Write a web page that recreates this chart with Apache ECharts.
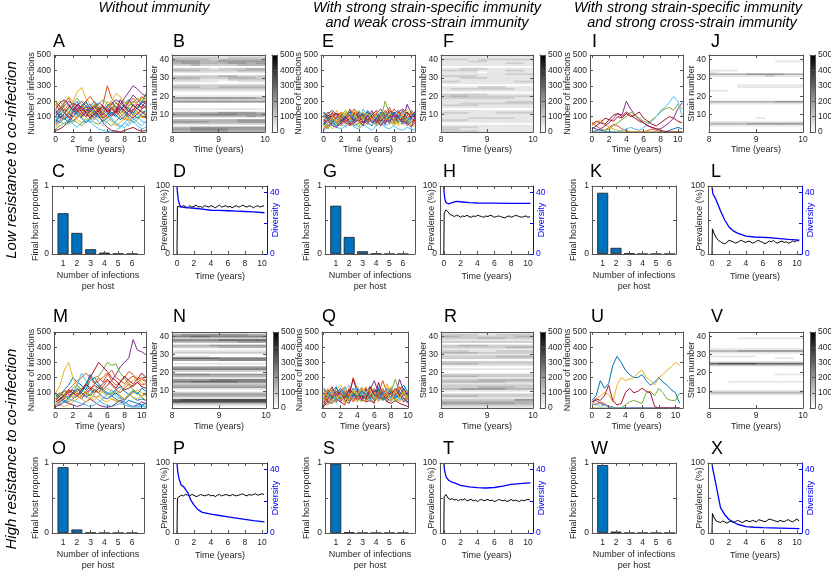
<!DOCTYPE html>
<html><head><meta charset="utf-8">
<script src="https://cdn.jsdelivr.net/npm/echarts@6/dist/echarts.min.js"></script>
<style>html,body{margin:0;padding:0;background:#fff}#c{width:831px;height:571px}</style>
</head><body><div id="c"></div>
<script>
// ---------------- DATA ----------------
// spaghetti traces: number of infections per strain, sampled every 0.5 year from t=0
const A_traces = [
"60 110 150 120 170 200 140 160 180 130 110 150 170 200 160 140 180 210 170 150 190 250",
"190 170 140 180 150 120 160 130 170 200 150 180 300 220 190 160 140 170 200 180 150 170",
"100 140 180 230 200 260 290 220 180 150 170 140 160 200 250 230 180 200 160 190 220 200",
"80 60 90 120 100 140 110 150 120 90 130 160 140 110 150 180 220 260 300 280 250 230",
"150 120 100 130 160 110 90 120 150 180 140 100 120 150 170 140 120 160 130 110 140 120",
"40 70 100 80 60 90 120 100 70 40 20 10 5 0 10 30 60 40 80 100 70 60",
"10 20 40 70 120 150 100 130 160 140 110 60 30 10 5 0 10 20 30 15 5 10",
"130 100 80 110 140 120 90 60 80 110 90 130 160 120 100 140 170 150 120 160 200 180",
"50 80 120 100 70 100 130 170 140 110 160 120 90 110 140 100 80 120 150 130 100 90",
"170 200 160 130 110 90 120 140 110 80 100 130 200 170 140 120 100 80 110 140 170 150",
"110 130 170 200 180 150 170 130 100 120 150 110 140 180 210 190 160 200 240 210 180 160",
"20 40 60 50 80 60 40 70 90 60 50 80 60 40 70 100 120 90 60 80 110 90",
"90 150 200 170 130 100 150 190 160 200 170 140 120 80 50 30 60 90 70 40 20 30",
"140 90 120 160 190 170 130 100 140 170 130 90 110 150 120 160 130 100 140 180 160 200",
"70 120 90 60 100 130 170 200 150 120 100 70 90 130 110 80 100 140 110 90 120 140",
"180 140 190 220 170 130 160 200 230 190 150 120 160 190 150 120 150 190 220 190 230 210",
"30 60 90 130 110 80 60 90 120 150 120 80 100 70 40 60 90 70 100 130 90 110",
"120 160 130 90 130 170 200 170 130 160 190 170 130 100 130 170 140 110 90 120 150 170",
"200 160 120 150 190 220 180 140 110 140 180 210 180 150 190 170 200 170 190 220 200 240",
"90 70 50 80 50 30 60 80 60 90 70 40 70 90 60 40 30 60 90 60 40 70",
"150 190 210 180 140 180 160 120 90 120 140 170 130 160 130 210 170 130 180 150 130 110"
];
const E_traces = [
"40 90 120 80 60 110 140 90 70 100 130 80 60 110 90 70 120 140 100 80 110 90",
"100 130 80 60 120 90 150 110 80 60 100 130 90 70 120 160 100 80 60 110 130 100",
"20 60 100 140 90 50 80 120 70 40 90 130 80 50 100 70 40 80 120 90 60 80",
"70 40 60 100 130 80 110 70 130 100 60 90 120 150 100 70 110 90 60 180 120 100",
"130 110 70 40 80 120 60 100 140 90 120 70 40 80 200 120 90 60 100 70 40 60",
"10 30 50 30 20 40 60 30 20 50 30 10 40 60 30 20 40 20 10 30 20 10",
"80 60 110 120 70 100 50 130 90 120 80 110 140 90 60 100 130 100 140 90 120 80",
"50 100 70 90 110 60 90 40 60 80 140 100 70 120 80 130 60 110 80 50 90 130",
"120 80 130 60 40 90 120 150 110 70 50 100 80 40 70 90 150 120 90 110 80 60",
"30 50 20 60 90 130 80 60 100 130 90 60 100 130 110 50 70 40 60 80 50 30",
"90 120 140 110 80 60 40 80 120 60 110 140 60 90 50 110 80 130 150 120 100 140",
"60 20 90 50 110 140 100 60 30 90 70 120 100 60 130 80 50 90 110 60 140 110",
"110 70 40 90 60 30 70 110 80 150 100 60 110 90 40 60 100 70 130 100 60 90",
"70 110 90 120 100 70 90 120 100 60 80 100 120 70 100 140 110 60 90 130 90 70",
"130 90 60 40 70 100 130 70 100 120 60 40 90 130 110 90 130 100 50 70 100 120",
"20 40 70 100 50 80 40 60 90 110 70 90 50 100 140 100 70 130 90 40 70 50",
"100 60 100 70 130 110 80 140 50 90 120 80 130 110 70 120 90 50 120 140 110 80",
"50 80 40 30 60 90 110 60 80 40 110 60 90 40 80 60 120 90 70 60 30 120"
];
const I_traces = [
"30 20 10 5 0 0 0 0 0 0 0 0 0 0 0 0 0 0 10 20 30 20",
"60 40 20 10 30 50 40 20 10 0 0 0 0 10 20 10 0 0 0 0 0 0",
"40 60 80 50 30 20 10 5 0 0 0 0 0 0 0 0 0 0 0 0 0 0",
"0 10 20 40 60 90 120 110 200 150 110 80 60 40 30 20 20 40 60 90 150 190",
"0 0 0 10 20 40 60 80 100 130 110 90 70 60 80 100 130 150 160 140 180 150",
"0 0 0 0 0 0 0 10 20 30 20 10 30 50 70 100 140 160 190 230 200 100",
"50 70 60 90 80 110 120 100 130 110 90 70 60 40 30 20 10 5 0 0 0 0",
"20 40 60 50 80 70 100 90 120 100 110 130 90 70 50 40 60 80 100 90 70 60"
];
const I_colorIdx = [0,1,2,3,4,5,6,6];
const M_traces = [
"50 80 120 150 200 170 150 120 180 200 160 120 100 80 60 40 30 50 40 30 20 30",
"80 100 60 120 150 180 200 230 200 160 180 200 230 180 150 170 200 240 220 190 200 180",
"100 150 250 300 200 150 100 80 60 90 120 100 80 60 50 40 60 80 100 120 100 80",
"20 40 60 80 100 80 60 100 120 150 130 120 150 180 220 270 300 330 450 380 370 350",
"60 90 120 100 130 150 120 140 180 200 210 250 300 280 290 230 200 150 120 100 80 90",
"30 50 80 60 100 150 230 180 120 80 50 30 20 10 20 30 20 10 5 10 20 10",
"40 60 80 100 120 90 110 150 200 250 300 270 240 200 180 150 120 130 150 170 140 130",
"100 70 50 40 60 80 100 150 220 170 140 110 90 100 120 140 110 90 70 50 60 50",
"60 40 80 110 90 120 100 80 120 160 200 170 220 250 200 180 160 190 210 180 150 160",
"30 20 10 20 40 60 80 100 90 70 80 110 130 110 90 120 150 170 180 200 170 150",
"10 20 40 30 20 10 20 40 60 40 20 10 5 10 30 50 40 20 10 20 40 30",
"70 100 80 60 90 110 130 100 80 110 150 120 100 90 110 80 60 90 120 100 70 50",
"20 30 40 60 50 40 30 20 10 20 40 60 90 120 80 60 40 20 10 5 10 5",
"40 60 90 120 100 80 120 160 130 100 130 160 190 160 130 170 210 180 160 190 230 200",
"90 60 40 70 100 130 100 70 90 120 100 70 60 80 100 70 50 80 110 90 130 110",
"60 80 110 90 70 100 80 110 140 120 100 140 180 150 120 100 130 160 140 170 190 170",
"20 50 70 40 60 90 60 40 70 50 80 50 40 60 40 80 60 90 70 60 80 100"
];
const Q_traces = [
"60 100 70 130 90 60 110 80 120 70 100 140 80 60 110 90 70 120 80 60 40",
"90 60 120 80 110 140 70 200 120 80 60 100 130 90 180 100 70 110 140 90 60",
"30 80 50 100 70 40 90 120 60 100 140 80 110 70 50 160 90 60 100 70 50",
"120 90 140 60 40 80 110 70 130 90 60 120 180 100 70 90 130 80 190 110 80",
"40 20 60 90 120 80 50 100 70 40 90 60 40 80 120 70 110 190 90 60 80",
"80 110 90 50 80 120 150 90 60 110 80 50 90 140 90 60 40 80 60 100 70",
"10 40 30 60 40 20 90 190 100 60 40 50 30 170 80 40 30 50 30 20 10",
"100 70 110 140 60 100 70 130 110 60 120 90 70 120 60 130 100 70 120 150 100",
"50 120 80 40 100 60 130 50 90 130 70 110 60 100 130 80 50 100 70 120 90",
"70 50 100 120 150 110 80 60 40 70 100 130 100 50 80 110 140 60 40 90 120",
"20 60 90 70 110 50 30 80 100 50 130 70 120 80 100 40 80 90 110 60 30",
"110 80 40 70 60 100 40 110 80 120 50 90 60 110 70 50 120 40 70 100 60",
"40 90 110 30 80 130 100 60 140 90 110 40 80 50 90 120 60 100 50 80 110",
"80 40 70 110 90 70 120 100 50 80 60 140 90 70 60 100 90 130 80 40 70",
"130 100 60 90 130 90 60 90 70 110 90 60 110 130 50 70 110 60 90 130 80",
"30 110 130 100 50 110 80 40 80 60 40 80 50 90 110 60 100 80 140 80 100",
"70 130 100 60 90 30 60 120 90 140 100 120 70 40 70 100 40 120 60 110 50"
];
const U_traces = [
"50 80 180 130 160 280 340 300 250 220 200 200 220 180 150 170 200 170 150 120 100 30",
"30 20 40 30 10 5 0 0 0 0 0 0 0 0 0 0 0 0 0 0 0 0",
"20 60 80 100 90 40 150 200 180 190 200 230 250 200 180 150 200 220 250 270 300 280",
"40 50 30 20 10 5 0 0 0 0 0 0 0 0 0 0 0 0 0 0 0 0",
"0 0 0 0 0 0 0 0 20 40 50 40 30 100 110 80 130 100 60 50 50 100",
"20 30 10 20 10 0 0 0 0 0 0 0 0 0 0 0 0 0 0 0 0 0",
"40 60 50 80 150 50 20 30 100 130 100 110 130 110 100 10 0 0 0 0 0 0"
];

// heatmaps: rows from strain 42 (top) down to strain 1; 10 time bins over years 8-10; digit x 50 = infections
const B_heat = ["1111111111","2222212222","3333233333","4443344444","3443334434","2232222333","0000000000","2222122233","3332222333","1111111111","0000000000","2222233222","3332223332","2221112222","1111100111","0000000000","2222222222","3332233333","2222222222","1111111111","0000000000","0000000000","1111111111","4444444443","2222222222","4444444444","0000000000","0000000000","0000000000","1111111111","0000000000","3333344443","4445555444","3333333343","0000000000","3333333444","4444333444","2222222222","0000000000","3344444444","4455554444","3344443333"];
const F_heat = ["1111111111","1111111111","2221222222","1112211111","1111111221","1111111111","0000000000","1122211111","2222111221","1111011111","1111111222","2222111111","1122211111","1111111111","2211111122","1111111111","0000000000","1111222111","1222222211","1111111111","0000000000","2222211111","2332222222","2222222211","1111111111","1111111222","1122222222","2222111111","1111111111","0000000000","1111111111","2221112222","1111111111","1111111111","1112222211","2221111111","1111111111","0000000000","1111111111","2222111111","2211111111","2222111111"];
const J_heat = ["0000000000","0000000000","0000000000","0000000111","0000000000","0000000000","0000000000","0000000000","1110000000","1000000000","3333444433","1111112111","0000000000","0000000000","0000000000","0000000000","0001111111","0001111111","0000000000","1100000000","0000000000","0000000000","0000000000","0000000000","0000000000","3333333444","1111111111","0000000000","0000000000","0000000000","0000000000","0000000000","0000000000","0000000000","0000010000","0000000000","1111111111","3333444444","1111111111","0000000000","0000000000","0000000000"];
const N_heat = ["1111111111","3444444433","5566555555","2222222222","5555566666","3333333444","0000000000","3333444444","2222233333","0000000000","1111111111","2222222222","0000000000","1111000000","6666655555","4444455555","0000000000","1111111111","0000000000","4444444444","5555555555","2222222222","0000000000","5555444444","3333333333","1111111111","4444555555","5566666555","2222222222","3333333333","4444444444","1111111111","0000000000","2222222222","4444444444","3333333333","1111111111","6777777777","7777777777","3333333333","1111111111","0000000000"];
const R_heat = ["1111111111","2222112222","3322222233","2222333222","1111111111","2222222222","0000000000","2233322222","2222222333","1111111111","2221112222","3333222222","1111111111","2222223333","2222222222","0000000000","2222222222","3333222222","1111111111","0000000000","1111111111","0000000000","0000000000","2222222222","3333222222","1111111111","2222333333","3333333222","1111111111","2222222222","2222333322","3344444333","1111111111","0000000000","2222222222","3333222222","1111111111","2222222244","3333333333","4444444433","2222222222","1111111111"];
const V_heat = ["0000000000","0000000000","0000000000","0001111111","0000000000","0000000000","0000000000","0000000000","0000000000","1111111111","3334444444","1111111111","0000000000","1111100000","0000000110","0000000000","1111111111","6777766666","2222222222","0000000000","0000000000","0000000000","0000000000","0000000111","0000000000","0000000000","0000000000","0011111111","0000000000","0000000000","0000000000","0000000000","1111111111","3333333333","1111111111","0000000000","0000000000","0000000000","0000000000","0000000000","0000000000","0000000000"];

// final host proportion for 1..6 infections per host
const C_bar = [0.60, 0.31, 0.07, 0.02, 0.005, 0.002];
const G_bar = [0.71, 0.25, 0.04, 0.005, 0, 0];
const K_bar = [0.90, 0.09, 0.01, 0, 0, 0];
const O_bar = [0.94, 0.05, 0.004, 0, 0, 0];
const S_bar = [0.99, 0.01, 0, 0, 0, 0];
const W_bar = [0.97, 0.02, 0, 0, 0, 0];

// prevalence (%) sampled at t = 0, 0.05, 0.25, 0.5, ... 10.25
const D_prev = [0,70,72,69,71,70,68,71,69,70,72,69,70,68,71,70,69,71,70,68,70,72,69,70,71,69,70,68,70,71,69,70,72,70,69,71,70,68,70,71,69,70,71];
const H_prev = [0,60,65,62,58,57,55,57,56,54,56,55,57,55,54,56,55,57,56,55,54,56,55,57,56,54,55,56,55,54,53,55,56,54,55,57,56,55,54,55,56,54,55];
const L_prev = [0,37,30,24,20,18,16,15,17,20,19,18,16,17,19,20,18,17,19,18,16,17,19,20,18,17,15,17,19,18,20,17,16,18,19,17,18,16,17,19,18,20,19];
const P_prev = [0,50,52,54,53,55,54,53,55,54,52,53,55,54,53,54,55,53,54,52,54,55,53,54,55,54,53,55,54,53,54,55,56,54,53,55,54,55,56,54,55,56,55];
const T_prev = [0,52,55,50,48,49,47,48,46,48,47,49,46,47,48,46,47,45,47,48,46,47,48,46,47,45,46,48,47,46,47,45,46,48,46,47,46,45,47,46,47,48,47];
const X_prev = [0,28,22,17,16,15,17,16,14,16,17,15,16,18,17,15,16,18,17,16,18,17,16,19,18,17,16,18,20,19,18,17,16,18,17,16,18,19,17,16,18,20,17];
// diversity [time, strains]
const D_div = [[0,44],[0.05,40],[0.15,35],[0.3,32],[0.5,30.5],[1,30],[1.5,29.8],[2,29.6],[3,29],[4,28.3],[5,28.2],[6,28],[7,27.8],[8,27.5],[9,27.2],[10.3,26.7]];
const H_div = [[0,44],[0.05,39],[0.15,35],[0.3,33],[0.6,32.5],[1,33.2],[1.5,34],[2,33.8],[3,33.3],[4,33],[6,32.9],[8,32.8],[10.3,32.7]];
const L_div = [[0,44],[0.1,39],[0.4,36],[1,28],[1.5,22],[2,17.5],[2.5,15],[3,13.5],[4,11.5],[5,11],[6,10.8],[7,10.5],[8,10],[9,9.5],[10.3,9]];
const P_div = [[0,44],[0.1,38],[0.25,34],[0.5,30],[0.8,29],[1,28],[1.3,25],[1.6,21],[2,17.5],[2.5,14.5],[3,13],[4,11.8],[5,11],[6,10.2],[7,9.4],[8,8.6],[9,7.8],[10.3,7]];
const T_div = [[0,44],[0.1,39],[0.3,35],[0.6,33],[1,32],[1.5,31],[2,30],[3,29],[4,28.5],[5,28.3],[6,28.6],[7,29.5],[8,30.5],[9,31],[10.3,31.5]];
const X_div = [[0,44],[0.1,40],[0.3,35],[0.6,27],[1,16],[1.5,11.5],[2,8.5],[2.5,7],[3,5.5],[4,4],[5,3.6],[6,3.4],[8,3.1],[10.3,2.8]];

const timeTicks = [0,2,4,6,8,10];
const infTicks = [100,200,300,400,500];
const strainTicks = [10,20,30,40];
const heatTicks = [8,9,10];
const cbTicks = [0,100,200,300,400,500];
const barTicks = [1,2,3,4,5,6];

// ---------------- STYLE / LAYOUT ----------------
const FONT = "'Liberation Sans', Arial, Helvetica, sans-serif";
const TXT = '#262626', LINE = '#555555', BLUE = '#0000ff';
const PAL = ['#0072BD','#D95319','#EDB120','#7E2F8E','#77AC30','#4DBEEE','#A2142F'];
const grids = [], xAxes = [], yAxes = [], series = [], graphics = [];

function axis(gi, pos, a, mirror) {
  const col = a.color || LINE;
  return {
    gridIndex: gi, type: 'value', position: pos, min: a.min, max: a.max, z: 5,
    axisLine: {show: true, onZero: false, lineStyle: {color: col, width: 1}},
    axisTick: {show: a.tickShow !== false, inside: true, length: 3, lineStyle: {color: col}, customValues: a.ticks || a.labels},
    axisLabel: {show: !mirror, customValues: a.labels, color: a.color || TXT, fontSize: 8.5, fontFamily: FONT, margin: a.margin == null ? 3 : a.margin, hideOverlap: false},
    splitLine: {show: false},
    name: mirror ? '' : (a.name || ''), nameLocation: 'middle', nameGap: a.nameGap || 10, nameMoveOverlap: false,
    nameRotate: (pos === 'left' || pos === 'right') ? 90 : 0,
    nameTextStyle: {color: a.color || TXT, fontSize: 9, fontFamily: FONT, lineHeight: 11}
  };
}
function addPanel(l, t, w, h, xa, ya, y2) {
  grids.push({left: l, top: t, width: w, height: h, show: false, containLabel: false, outerBoundsMode: 'none'});
  const gi = grids.length - 1;
  const xi = xAxes.length;
  xAxes.push(axis(gi, 'bottom', xa, false));
  xAxes.push(axis(gi, 'top', xa, true));
  const yi = yAxes.length;
  yAxes.push(axis(gi, 'left', ya, false));
  if (y2) yAxes.push(axis(gi, 'right', y2, false));
  else yAxes.push(axis(gi, 'right', ya, true));
  return {xi, yi, y2i: yi + 1};
}
function letter(ch, x, y) {
  graphics.push({type: 'text', x: x, y: y, style: {text: ch, font: '18px ' + FONT, fill: '#000', align: 'left', verticalAlign: 'middle', textAlign: 'left', textVerticalAlign: 'middle'}});
}
function label(txt, x, y, size, rot) {
  graphics.push({type: 'text', x: x, y: y, rotation: rot || 0, style: {text: txt, font: 'italic ' + size + 'px ' + FONT, fill: '#000', align: 'center', verticalAlign: 'middle', textAlign: 'center', textVerticalAlign: 'middle'}});
}

function spaghetti(l, t, w, h, xmin, xmax, traces, nameGapX, colorIdx) {
  const ax = addPanel(l, t, w, h,
    {min: xmin, max: xmax, labels: timeTicks, name: 'Time (years)', nameGap: nameGapX},
    {min: 0, max: 500, labels: infTicks, ticks: [0].concat(infTicks), name: 'Number of infections', nameGap: 17});
  traces.forEach((s, i) => {
    const vals = s.trim().split(/\s+/).map(Number);
    series.push({type: 'line', xAxisIndex: ax.xi, yAxisIndex: ax.yi, showSymbol: false, symbol: 'none', clip: true, silent: true,
      lineStyle: {width: 1, color: PAL[colorIdx ? colorIdx[i] : i % 7]},
      data: vals.map((v, k) => [k * 0.5, v])});
  });
}
function heatmap(l, t, w, h, rows, nameGapX) {
  const ax = addPanel(l, t, w, h,
    {min: 8, max: 10, labels: heatTicks, name: 'Time (years)', nameGap: nameGapX},
    {min: 0.5, max: 42.5, labels: strainTicks, name: 'Strain number', nameGap: 12});
  const n = rows.length, cells = [];
  rows.forEach((r, ri) => { for (let c = 0; c < r.length; c++) cells.push([8 + c * 0.2, n - ri, Number(r[c]) * 50]); });
  series.push({type: 'custom', xAxisIndex: ax.xi, yAxisIndex: ax.yi, clip: true, silent: true, data: cells,
    renderItem: function (params, api) {
      const x0 = api.value(0), s = api.value(1), v = api.value(2);
      const p1 = api.coord([x0, s + 0.5]), p2 = api.coord([x0 + 0.2, s - 0.5]);
      const g = Math.round(255 * (1 - v / 500));
      return {type: 'rect', shape: {x: p1[0], y: p1[1], width: p2[0] - p1[0] + 0.6, height: p2[1] - p1[1] + 0.4},
        style: {fill: 'rgb(' + g + ',' + g + ',' + g + ')'}};
    }});
  // colour bar
  const cb = addPanel(l + w + 7, t, 5, h,
    {min: 0, max: 1, labels: [], ticks: [], tickShow: false},
    {min: 0, max: 500, labels: [], ticks: [], tickShow: false},
    {min: 0, max: 500, labels: cbTicks, ticks: cbTicks, margin: 3});
  series.push({type: 'custom', xAxisIndex: cb.xi, yAxisIndex: cb.yi, silent: true, data: [[0, 0]],
    renderItem: function (params, api) {
      const p1 = api.coord([0, 500]), p2 = api.coord([1, 0]);
      return {type: 'rect', shape: {x: p1[0], y: p1[1], width: p2[0] - p1[0], height: p2[1] - p1[1]},
        style: {fill: new echarts.graphic.LinearGradient(0, 0, 0, 1, [{offset: 0, color: '#000'}, {offset: 1, color: '#fff'}])}};
    }});
}
function bars(l, t, w, h, xmax, vals, nameGapY) {
  const ax = addPanel(l, t, w, h,
    {min: 0.2, max: xmax, labels: barTicks, margin: 5, name: 'Number of infections\nper host', nameGap: 16},
    {min: 0, max: 1, labels: [0, 1], ticks: [0, 0.5, 1], name: 'Final host proportion', nameGap: nameGapY});
  series.push({type: 'bar', xAxisIndex: ax.xi, yAxisIndex: ax.yi, barWidth: 11, silent: true,
    itemStyle: {color: '#0072BD', borderColor: '#1a1a1a', borderWidth: 0.8},
    data: vals.map((v, i) => [i + 1, v])});
}
const prevT = [0, 0.05];
for (let k = 1; k <= 41; k++) prevT.push(k * 0.25);
function prevalence(l, t, w, h, xmin, xmax, prev, div) {
  const ax = addPanel(l, t, w, h,
    {min: xmin, max: xmax, labels: timeTicks, margin: 5, name: 'Time (years)', nameGap: 17},
    {min: 0, max: 100, labels: [0, 100], ticks: [0, 50, 100], name: 'Prevalence (%)', nameGap: 3},
    {min: 0, max: 44, labels: [0, 40], ticks: [0, 20, 40], color: BLUE, name: 'Diversity', nameGap: 3});
  series.push({type: 'line', xAxisIndex: ax.xi, yAxisIndex: ax.yi, showSymbol: false, symbol: 'none', silent: true,
    lineStyle: {width: 1, color: '#000'}, data: prev.map((v, i) => [prevT[i], v])});
  series.push({type: 'line', xAxisIndex: ax.xi, yAxisIndex: ax.y2i, showSymbol: false, symbol: 'none', silent: true,
    lineStyle: {width: 1.3, color: BLUE}, data: div});
}

// row geometry
const R1 = [55, 77], R2 = [186, 68], R3 = [332, 76], R4 = [463, 70];

// column 1: without immunity
spaghetti(54, R1[0], 92, R1[1], -0.2, 10.5, A_traces, 12);
heatmap(172, R1[0], 93, R1[1], B_heat, 12);
bars(52, R2[0], 92, R2[1], 6.87, C_bar, 11);
prevalence(173, R2[0], 94, R2[1], -0.47, 10.6, D_prev, D_div);
spaghetti(54, R3[0], 92, R3[1], -0.2, 10.5, M_traces, 13);
heatmap(172, R3[0], 94, R3[1], N_heat, 13);
bars(52, R4[0], 92, R4[1], 6.87, O_bar, 11);
prevalence(173, R4[0], 94, R4[1], -0.47, 10.6, P_prev, P_div);
// column 2: strong specific, weak cross immunity
spaghetti(321, R1[0], 94, R1[1], -0.3, 10.4, E_traces, 12);
heatmap(441, R1[0], 92, R1[1], F_heat, 12);
bars(325, R2[0], 90, R2[1], 6.9, G_bar, 13);
prevalence(440, R2[0], 93, R2[1], -0.45, 10.6, H_prev, H_div);
spaghetti(322, R3[0], 86, R3[1], -0.2, 10, Q_traces, 13);
heatmap(441, R3[0], 92, R3[1], R_heat, 13);
bars(325, R4[0], 90, R4[1], 6.9, S_bar, 13);
prevalence(440, R4[0], 93, R4[1], -0.45, 10.6, T_prev, T_div);
// column 3: strong specific, strong cross immunity
spaghetti(590, R1[0], 93, R1[1], -0.23, 10.6, I_traces, 12, I_colorIdx);
heatmap(709, R1[0], 94, R1[1], J_heat, 12);
bars(592, R2[0], 84, R2[1], 6.5, K_bar, 13);
prevalence(708, R2[0], 94, R2[1], -0.47, 10.6, L_prev, L_div);
spaghetti(590, R3[0], 93, R3[1], -0.23, 10.9, U_traces, 13);
heatmap(709, R3[0], 94, R3[1], V_heat, 13);
bars(592, R4[0], 84, R4[1], 6.5, W_bar, 13);
prevalence(708, R4[0], 94, R4[1], -0.47, 10.6, X_prev, X_div);

// letters
[['A',53,42],['B',173,42],['E',322,42],['F',443,42],['I',592,42],['J',711,42],
 ['C',52,172],['D',173,172],['G',323,172],['H',443,172],['K',590,172],['L',711,172],
 ['M',53,317],['N',173,317],['Q',322,317],['R',444,317],['U',591,317],['V',711,317],
 ['O',52,449],['P',173,449],['S',323,449],['T',443,449],['W',591,449],['X',711,449]].forEach(a => letter(a[0], a[1], a[2]));
// titles
label('Without immunity', 154, 8, 14.5);
label('With strong strain-specific immunity', 427, 8, 14.5);
label('and weak cross-strain immunity', 427, 23, 14.5);
label('With strong strain-specific immunity', 688, 8, 14.5);
label('and strong cross-strain immunity', 692, 23, 14.5);
label('Low resistance to co-infection', 12, 160, 15, Math.PI / 2);
label('High resistance to co-infection', 12, 449, 15, Math.PI / 2);

const chart = echarts.init(document.getElementById('c'), null, {renderer: 'canvas'});
chart.setOption({animation: false, backgroundColor: '#fff', grid: grids, xAxis: xAxes, yAxis: yAxes, series: series, graphic: graphics, tooltip: {show: false}});
</script></body></html>
